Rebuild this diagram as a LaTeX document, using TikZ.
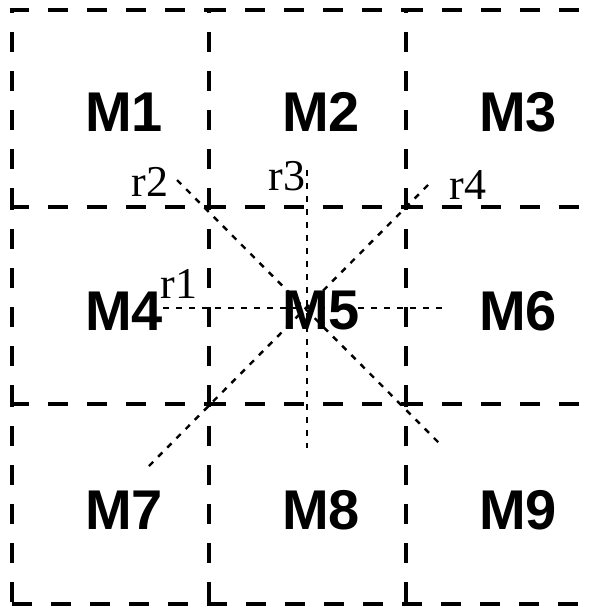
\documentclass[tikz,border=0pt]{standalone}
\usepackage{fontspec}
\setmainfont{Liberation Serif}
\setsansfont{Liberation Sans}
\usetikzlibrary{positioning}
\tikzset{
    cellline/.style={line width=3.2pt, dash pattern=on 20pt off 19pt},
    rayline/.style={line width=2.4pt, dash pattern=on 6pt off 7pt},
    celllabel/.style={font=\sffamily\bfseries\fontsize{56}{56}\selectfont, inner sep=0pt},
    raylabel/.style={font=\fontsize{44}{44}\selectfont, inner sep=0pt}
}

\begin{document}
\begin{tikzpicture}[x=1pt, y=-1pt]
    \clip (0,0) rectangle (597,610);
    % the nine cells, top and left side each
    \foreach \r in {0,1,2}
        \foreach \c in {0,1,2}
            \draw[cellline] (12+197*\c, 208+197*\r) -- (12+197*\c, 10+197*\r) -- (209+197*\c, 10+197*\r);
    \draw[cellline] (12,604) -- (597,604);
    \foreach \i in {1,...,9} {
        \pgfmathtruncatemacro\c{mod(\i-1,3)}
        \pgfmathtruncatemacro\r{div(\i-1,3)}
        \node[celllabel] (m\i) at (124+197*\c, 112+199*\r) {M\i};
    }
    % rays through the middle cell
    \coordinate (r1w) at (163,308);
    \coordinate (r1e) at (443,308);
    \coordinate (r2nw) at (177,180);
    \coordinate (r2se) at (443,447);
    \coordinate (r3n) at (307,170);
    \coordinate (r3s) at (307,448);
    \coordinate (r4ne) at (428,185);
    \coordinate (r4sw) at (145,470);
    \draw[rayline] (r1w) -- (r1e);
    \draw[rayline] (r2nw) -- (r2se);
    \draw[rayline] (r3n) -- (r3s);
    \draw[rayline] (r4ne) -- (r4sw);
    \node[raylabel] (r1) at (179,284) {r1};
    \node[raylabel] (r2) at (150,182) {r2};
    \node[raylabel] (r3) at (287,176) {r3};
    \node[raylabel] (r4) at (468,185) {r4};
\end{tikzpicture}
\end{document}
